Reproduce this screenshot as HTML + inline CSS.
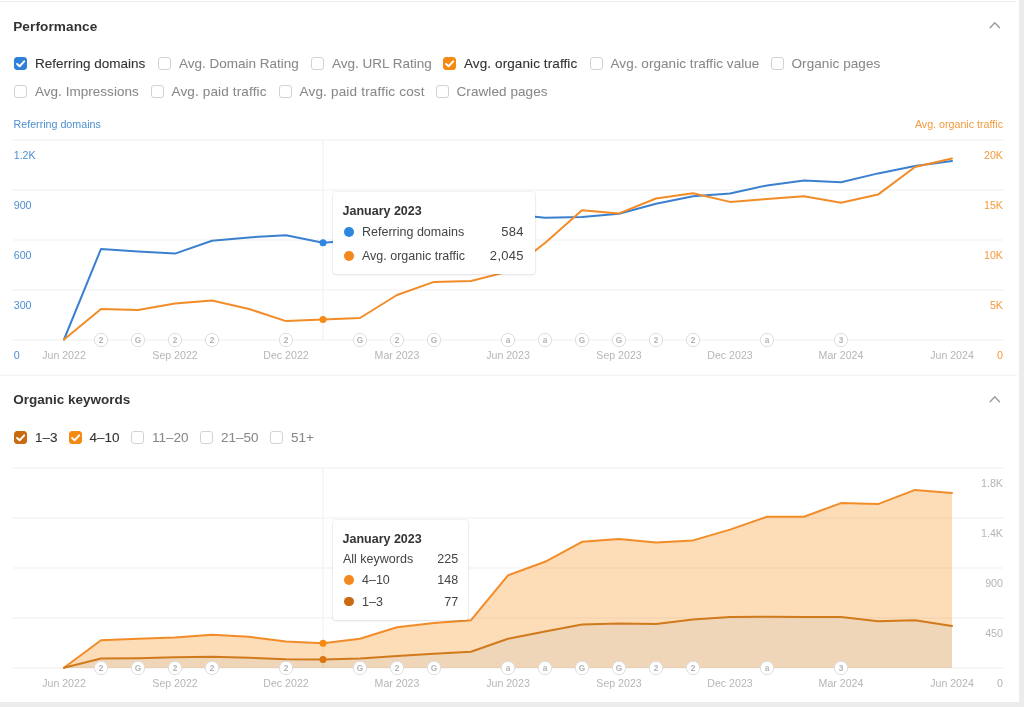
<!DOCTYPE html>
<html lang="en"><head><meta charset="utf-8"><title>Performance</title>
<style>
html,body{margin:0;padding:0}
body{width:1024px;height:707px;overflow:hidden;background:#ececec;font-family:"Liberation Sans",sans-serif;position:relative;color:#333}
.panel{position:absolute;left:0;top:2px;width:1019px;height:699.6px;background:#fff}
.topline{position:absolute;left:0;top:0;width:1019px;height:2px;background:#fff}
.topline i{position:absolute;left:0;top:1px;width:1016px;height:1px;background:#efefef}
.chart{position:absolute;left:0;top:0}
.h{position:absolute;left:13.2px;font-weight:bold;font-size:13.6px;letter-spacing:0.1px;line-height:16px;color:#333;white-space:nowrap}
.cb{position:absolute;box-sizing:border-box;width:13.4px;height:13.4px;border:1px solid #d2d2d4;border-radius:3px;background:#fff}
.cb.on svg{position:absolute;left:-1px;top:-1px}
.lab{position:absolute;font-size:13.5px;line-height:17px;color:#898989;-webkit-text-stroke:0.06px #898989;margin-top:0.3px;white-space:nowrap}
.lab.on{color:#333;-webkit-text-stroke:0.1px #333}
text{font-family:"Liberation Sans",sans-serif}
.mk{font-size:8.3px;font-weight:bold;fill:#b4b4b4;text-anchor:middle}
.xl{font-size:10.6px;fill:#b6b6b6;text-anchor:middle}
.yl{font-size:10.7px}
.b{fill:#4d8fd1} .o{fill:#f39a3c} .g{fill:#b5b5b5} .r{text-anchor:end}
.tip{position:absolute;background:#fff;border-radius:3px;box-shadow:0 0 0 1px rgba(0,0,0,.035),0 1px 3px rgba(0,0,0,.09);font-size:12.5px;color:#444}
.tip b{position:absolute;left:9.5px;top:11px;font-size:12.5px;color:#333;white-space:nowrap;line-height:16px}
.tip .r{position:absolute;left:10px;right:11px;height:16px;line-height:16px;white-space:nowrap}
.tip .r i{position:absolute;left:1.3px;top:3.1px;width:9.8px;height:9.8px;border-radius:50%}
.tip .r span{position:absolute;left:19px}
.tip .r span.n{left:0}
.tip .r em{position:absolute;right:0.1px;font-style:normal;font-size:13px;letter-spacing:0.3px}
.t2 .r{right:9.7px}
.tip.t2 .r em{font-size:12.5px;letter-spacing:0.1px;right:0}
</style></head><body>
<div class="topline"><i></i></div>
<div class="panel"></div>
<svg class="chart" width="1024" height="707" viewBox="0 0 1024 707">
<rect x="0" y="374.7" width="1017" height="1" fill="#f0f0f1"/>
<rect x="13" y="139.5" width="990" height="1" fill="#f0f0f2"/>
<rect x="13" y="189.5" width="990" height="1" fill="#f0f0f2"/>
<rect x="13" y="239.5" width="990" height="1" fill="#f0f0f2"/>
<rect x="13" y="289.5" width="990" height="1" fill="#f0f0f2"/>
<rect x="13" y="339.5" width="990" height="1" fill="#f0f0f2"/>
<rect x="322.5" y="140" width="1" height="200" fill="#f0f0f2"/>
<rect x="13" y="467.5" width="990" height="1" fill="#f0f0f2"/>
<rect x="13" y="517.5" width="990" height="1" fill="#f0f0f2"/>
<rect x="13" y="567.5" width="990" height="1" fill="#f0f0f2"/>
<rect x="13" y="617.5" width="990" height="1" fill="#f0f0f2"/>
<rect x="13" y="667.5" width="990" height="1" fill="#f0f0f2"/>
<rect x="322.5" y="468" width="1" height="200" fill="#f0f0f2"/>
<path d="M64.0,339.5 L101.0,248.9 L138.0,251.4 L175.0,253.6 L212.0,240.8 L249.0,237.4 L286.0,235.2 L323.0,242.7 L360.0,240.0 L397.0,235.0 L434.0,228.0 L471.0,222.0 L508.0,214.0 L545.0,217.8 L582.0,217.1 L619.0,213.8 L656.0,203.8 L693.0,196.3 L730.0,193.5 L767.0,185.4 L804.0,180.4 L841.0,182.3 L878.0,173.4 L915.0,165.9 L952.0,161.1" fill="none" stroke="#3b80cf" stroke-width="2" stroke-linejoin="round" stroke-linecap="round"/>
<path d="M64.0,339.5 L101.0,309.0 L138.0,309.9 L175.0,303.4 L212.0,300.6 L249.0,309.0 L286.0,321.1 L323.0,319.5 L360.0,318.0 L397.0,295.0 L434.0,281.9 L471.0,281.0 L508.0,271.6 L545.0,243.0 L582.0,210.3 L619.0,213.4 L656.0,198.5 L693.0,193.2 L730.0,201.9 L767.0,199.1 L804.0,196.3 L841.0,202.7 L878.0,194.6 L915.0,167.0 L952.0,158.5" fill="none" stroke="#f28c28" stroke-width="2" stroke-linejoin="round" stroke-linecap="round"/>
<circle cx="323.0" cy="242.7" r="3.5" fill="#2f86de"/>
<circle cx="323.0" cy="319.5" r="3.5" fill="#f58a14"/>
<path d="M64.0,667.7 L101.0,640.2 L138.0,638.8 L175.0,637.5 L212.0,634.8 L249.0,636.8 L286.0,641.5 L323.0,643.2 L360.0,638.8 L397.0,627.3 L434.0,622.9 L471.0,620.2 L508.0,575.4 L545.0,561.8 L582.0,541.8 L619.0,539.1 L656.0,542.5 L693.0,540.4 L730.0,529.6 L767.0,516.7 L804.0,516.7 L841.0,503.1 L878.0,504.1 L915.0,489.9 L952.0,492.9 L952.0,625.9 L915.0,620.2 L878.0,621.2 L841.0,617.1 L804.0,617.1 L767.0,616.8 L730.0,617.1 L693.0,619.5 L656.0,623.9 L619.0,623.6 L582.0,624.6 L545.0,631.4 L508.0,638.8 L471.0,651.7 L434.0,653.8 L397.0,656.1 L360.0,658.5 L323.0,659.5 L286.0,659.2 L249.0,657.8 L212.0,656.8 L175.0,657.2 L138.0,658.2 L101.0,658.5 L64.0,667.7 Z" fill="rgb(249,149,40)" fill-opacity="0.33"/>
<path d="M64.0,667.7 L101.0,658.5 L138.0,658.2 L175.0,657.2 L212.0,656.8 L249.0,657.8 L286.0,659.2 L323.0,659.5 L360.0,658.5 L397.0,656.1 L434.0,653.8 L471.0,651.7 L508.0,638.8 L545.0,631.4 L582.0,624.6 L619.0,623.6 L656.0,623.9 L693.0,619.5 L730.0,617.1 L767.0,616.8 L804.0,617.1 L841.0,617.1 L878.0,621.2 L915.0,620.2 L952.0,625.9 L952.0,668 L64.0,668 Z" fill="rgb(210,131,40)" fill-opacity="0.33"/>
<path d="M64.0,667.7 L101.0,640.2 L138.0,638.8 L175.0,637.5 L212.0,634.8 L249.0,636.8 L286.0,641.5 L323.0,643.2 L360.0,638.8 L397.0,627.3 L434.0,622.9 L471.0,620.2 L508.0,575.4 L545.0,561.8 L582.0,541.8 L619.0,539.1 L656.0,542.5 L693.0,540.4 L730.0,529.6 L767.0,516.7 L804.0,516.7 L841.0,503.1 L878.0,504.1 L915.0,489.9 L952.0,492.9" fill="none" stroke="#f28c28" stroke-width="2" stroke-linejoin="round" stroke-linecap="round"/>
<path d="M64.0,667.7 L101.0,658.5 L138.0,658.2 L175.0,657.2 L212.0,656.8 L249.0,657.8 L286.0,659.2 L323.0,659.5 L360.0,658.5 L397.0,656.1 L434.0,653.8 L471.0,651.7 L508.0,638.8 L545.0,631.4 L582.0,624.6 L619.0,623.6 L656.0,623.9 L693.0,619.5 L730.0,617.1 L767.0,616.8 L804.0,617.1 L841.0,617.1 L878.0,621.2 L915.0,620.2 L952.0,625.9" fill="none" stroke="#d07a1c" stroke-width="2" stroke-linejoin="round" stroke-linecap="round"/>
<circle cx="323.0" cy="643.2" r="3.5" fill="#f58a14"/>
<circle cx="323.0" cy="659.5" r="3.5" fill="#d9740f"/>
<circle cx="101.0" cy="340" r="6.7" fill="#fff" stroke="#dedee0" stroke-width="1"/>
<text x="101.0" y="343" class="mk">2</text>
<circle cx="138.0" cy="340" r="6.7" fill="#fff" stroke="#dedee0" stroke-width="1"/>
<text x="138.0" y="343" class="mk">G</text>
<circle cx="175.0" cy="340" r="6.7" fill="#fff" stroke="#dedee0" stroke-width="1"/>
<text x="175.0" y="343" class="mk">2</text>
<circle cx="212.0" cy="340" r="6.7" fill="#fff" stroke="#dedee0" stroke-width="1"/>
<text x="212.0" y="343" class="mk">2</text>
<circle cx="286.0" cy="340" r="6.7" fill="#fff" stroke="#dedee0" stroke-width="1"/>
<text x="286.0" y="343" class="mk">2</text>
<circle cx="360.0" cy="340" r="6.7" fill="#fff" stroke="#dedee0" stroke-width="1"/>
<text x="360.0" y="343" class="mk">G</text>
<circle cx="397.0" cy="340" r="6.7" fill="#fff" stroke="#dedee0" stroke-width="1"/>
<text x="397.0" y="343" class="mk">2</text>
<circle cx="434.0" cy="340" r="6.7" fill="#fff" stroke="#dedee0" stroke-width="1"/>
<text x="434.0" y="343" class="mk">G</text>
<circle cx="508.0" cy="340" r="6.7" fill="#fff" stroke="#dedee0" stroke-width="1"/>
<text x="508.0" y="343" class="mk">a</text>
<circle cx="545.0" cy="340" r="6.7" fill="#fff" stroke="#dedee0" stroke-width="1"/>
<text x="545.0" y="343" class="mk">a</text>
<circle cx="582.0" cy="340" r="6.7" fill="#fff" stroke="#dedee0" stroke-width="1"/>
<text x="582.0" y="343" class="mk">G</text>
<circle cx="619.0" cy="340" r="6.7" fill="#fff" stroke="#dedee0" stroke-width="1"/>
<text x="619.0" y="343" class="mk">G</text>
<circle cx="656.0" cy="340" r="6.7" fill="#fff" stroke="#dedee0" stroke-width="1"/>
<text x="656.0" y="343" class="mk">2</text>
<circle cx="693.0" cy="340" r="6.7" fill="#fff" stroke="#dedee0" stroke-width="1"/>
<text x="693.0" y="343" class="mk">2</text>
<circle cx="767.0" cy="340" r="6.7" fill="#fff" stroke="#dedee0" stroke-width="1"/>
<text x="767.0" y="343" class="mk">a</text>
<circle cx="841.0" cy="340" r="6.7" fill="#fff" stroke="#dedee0" stroke-width="1"/>
<text x="841.0" y="343" class="mk">3</text>
<text x="64.0" y="358.5" class="xl">Jun 2022</text>
<text x="175.0" y="358.5" class="xl">Sep 2022</text>
<text x="286.0" y="358.5" class="xl">Dec 2022</text>
<text x="397.0" y="358.5" class="xl">Mar 2023</text>
<text x="508.0" y="358.5" class="xl">Jun 2023</text>
<text x="619.0" y="358.5" class="xl">Sep 2023</text>
<text x="730.0" y="358.5" class="xl">Dec 2023</text>
<text x="841.0" y="358.5" class="xl">Mar 2024</text>
<text x="952.0" y="358.5" class="xl">Jun 2024</text>
<circle cx="101.0" cy="668" r="6.7" fill="#fff" stroke="#dedee0" stroke-width="1"/>
<text x="101.0" y="671" class="mk">2</text>
<circle cx="138.0" cy="668" r="6.7" fill="#fff" stroke="#dedee0" stroke-width="1"/>
<text x="138.0" y="671" class="mk">G</text>
<circle cx="175.0" cy="668" r="6.7" fill="#fff" stroke="#dedee0" stroke-width="1"/>
<text x="175.0" y="671" class="mk">2</text>
<circle cx="212.0" cy="668" r="6.7" fill="#fff" stroke="#dedee0" stroke-width="1"/>
<text x="212.0" y="671" class="mk">2</text>
<circle cx="286.0" cy="668" r="6.7" fill="#fff" stroke="#dedee0" stroke-width="1"/>
<text x="286.0" y="671" class="mk">2</text>
<circle cx="360.0" cy="668" r="6.7" fill="#fff" stroke="#dedee0" stroke-width="1"/>
<text x="360.0" y="671" class="mk">G</text>
<circle cx="397.0" cy="668" r="6.7" fill="#fff" stroke="#dedee0" stroke-width="1"/>
<text x="397.0" y="671" class="mk">2</text>
<circle cx="434.0" cy="668" r="6.7" fill="#fff" stroke="#dedee0" stroke-width="1"/>
<text x="434.0" y="671" class="mk">G</text>
<circle cx="508.0" cy="668" r="6.7" fill="#fff" stroke="#dedee0" stroke-width="1"/>
<text x="508.0" y="671" class="mk">a</text>
<circle cx="545.0" cy="668" r="6.7" fill="#fff" stroke="#dedee0" stroke-width="1"/>
<text x="545.0" y="671" class="mk">a</text>
<circle cx="582.0" cy="668" r="6.7" fill="#fff" stroke="#dedee0" stroke-width="1"/>
<text x="582.0" y="671" class="mk">G</text>
<circle cx="619.0" cy="668" r="6.7" fill="#fff" stroke="#dedee0" stroke-width="1"/>
<text x="619.0" y="671" class="mk">G</text>
<circle cx="656.0" cy="668" r="6.7" fill="#fff" stroke="#dedee0" stroke-width="1"/>
<text x="656.0" y="671" class="mk">2</text>
<circle cx="693.0" cy="668" r="6.7" fill="#fff" stroke="#dedee0" stroke-width="1"/>
<text x="693.0" y="671" class="mk">2</text>
<circle cx="767.0" cy="668" r="6.7" fill="#fff" stroke="#dedee0" stroke-width="1"/>
<text x="767.0" y="671" class="mk">a</text>
<circle cx="841.0" cy="668" r="6.7" fill="#fff" stroke="#dedee0" stroke-width="1"/>
<text x="841.0" y="671" class="mk">3</text>
<text x="64.0" y="686.5" class="xl">Jun 2022</text>
<text x="175.0" y="686.5" class="xl">Sep 2022</text>
<text x="286.0" y="686.5" class="xl">Dec 2022</text>
<text x="397.0" y="686.5" class="xl">Mar 2023</text>
<text x="508.0" y="686.5" class="xl">Jun 2023</text>
<text x="619.0" y="686.5" class="xl">Sep 2023</text>
<text x="730.0" y="686.5" class="xl">Dec 2023</text>
<text x="841.0" y="686.5" class="xl">Mar 2024</text>
<text x="952.0" y="686.5" class="xl">Jun 2024</text>
<text x="13.7" y="159" class="yl b">1.2K</text>
<text x="13.7" y="209" class="yl b">900</text>
<text x="13.7" y="259" class="yl b">600</text>
<text x="13.7" y="309" class="yl b">300</text>
<text x="13.7" y="359" class="yl b">0</text>
<text x="1003" y="159" class="yl o r">20K</text>
<text x="1003" y="209" class="yl o r">15K</text>
<text x="1003" y="259" class="yl o r">10K</text>
<text x="1003" y="309" class="yl o r">5K</text>
<text x="1003" y="359" class="yl o r">0</text>
<text x="1003" y="487" class="yl g r">1.8K</text>
<text x="1003" y="537" class="yl g r">1.4K</text>
<text x="1003" y="587" class="yl g r">900</text>
<text x="1003" y="637" class="yl g r">450</text>
<text x="1003" y="687" class="yl g r">0</text>
<text x="13.5" y="128" class="yl b">Referring domains</text>
<text x="1003" y="128" class="yl o r">Avg. organic traffic</text>
<path d="M990.1,27.8 L994.8,22.7 L999.5,27.8" fill="none" stroke="#9a9a9a" stroke-width="1.3" stroke-linecap="round" stroke-linejoin="round"/>
<path d="M990.1,401.8 L994.8,396.7 L999.5,401.8" fill="none" stroke="#9a9a9a" stroke-width="1.3" stroke-linecap="round" stroke-linejoin="round"/>
</svg>
<div class="h" style="top:18.8px">Performance</div>
<div class="h" style="top:391.8px;letter-spacing:0;font-size:13.5px">Organic keywords</div>
<span class="cb on" style="left:14px;top:57px;background:#2f80d8;border-color:#2f80d8"><svg width="13.4" height="13.4" viewBox="0 0 13.4 13.4"><path d="M3.1,7 L5.6,9.2 L10.2,4.4" fill="none" stroke="#fff" stroke-width="2" stroke-linecap="round" stroke-linejoin="round"/></svg></span>
<span class="lab on" style="left:35px;top:55px">Referring domains</span>
<span class="cb" style="left:158px;top:57px"></span>
<span class="lab" style="left:179px;top:55px">Avg. Domain Rating</span>
<span class="cb" style="left:311px;top:57px"></span>
<span class="lab" style="left:332px;top:55px">Avg. URL Rating</span>
<span class="cb on" style="left:443px;top:57px;background:#f6890f;border-color:#f6890f"><svg width="13.4" height="13.4" viewBox="0 0 13.4 13.4"><path d="M3.1,7 L5.6,9.2 L10.2,4.4" fill="none" stroke="#fff" stroke-width="2" stroke-linecap="round" stroke-linejoin="round"/></svg></span>
<span class="lab on" style="left:464px;top:55px;letter-spacing:0.1px">Avg. organic traffic</span>
<span class="cb" style="left:589.5px;top:57px"></span>
<span class="lab" style="left:610.5px;top:55px;letter-spacing:0.06px">Avg. organic traffic value</span>
<span class="cb" style="left:770.5px;top:57px"></span>
<span class="lab" style="left:791.5px;top:55px;letter-spacing:0.08px">Organic pages</span>
<span class="cb" style="left:14px;top:85px"></span>
<span class="lab" style="left:35px;top:83px;letter-spacing:0.03px">Avg. Impressions</span>
<span class="cb" style="left:150.5px;top:85px"></span>
<span class="lab" style="left:171.5px;top:83px;letter-spacing:0.15px">Avg. paid traffic</span>
<span class="cb" style="left:278.5px;top:85px"></span>
<span class="lab" style="left:299.5px;top:83px;letter-spacing:0.19px">Avg. paid traffic cost</span>
<span class="cb" style="left:435.5px;top:85px"></span>
<span class="lab" style="left:456.5px;top:83px;letter-spacing:0.08px">Crawled pages</span>
<span class="cb on" style="left:14px;top:431px;background:#c96a10;border-color:#c96a10"><svg width="13.4" height="13.4" viewBox="0 0 13.4 13.4"><path d="M3.1,7 L5.6,9.2 L10.2,4.4" fill="none" stroke="#fff" stroke-width="2" stroke-linecap="round" stroke-linejoin="round"/></svg></span>
<span class="lab on" style="left:35px;top:429px">1–3</span>
<span class="cb on" style="left:68.5px;top:431px;background:#f6890f;border-color:#f6890f"><svg width="13.4" height="13.4" viewBox="0 0 13.4 13.4"><path d="M3.1,7 L5.6,9.2 L10.2,4.4" fill="none" stroke="#fff" stroke-width="2" stroke-linecap="round" stroke-linejoin="round"/></svg></span>
<span class="lab on" style="left:89.5px;top:429px">4–10</span>
<span class="cb" style="left:131px;top:431px"></span>
<span class="lab" style="left:152px;top:429px">11–20</span>
<span class="cb" style="left:200px;top:431px"></span>
<span class="lab" style="left:221px;top:429px">21–50</span>
<span class="cb" style="left:270px;top:431px"></span>
<span class="lab" style="left:291px;top:429px">51+</span>
<div class="tip" style="left:333px;top:192px;width:202px;height:82px">
<b>January 2023</b>
<div class="r" style="top:31.9px"><i style="background:#2f86de"></i><span>Referring domains</span><em>584</em></div>
<div class="r" style="top:55.7px"><i style="background:#f5871f"></i><span>Avg. organic traffic</span><em>2,045</em></div>
</div>
<div class="tip t2" style="left:333px;top:520px;width:135px;height:100px">
<b>January 2023</b>
<div class="r" style="top:31px"><span class="n">All keywords</span><em>225</em></div>
<div class="r" style="top:52px"><i style="background:#f5871f"></i><span>4–10</span><em>148</em></div>
<div class="r" style="top:73.6px"><i style="background:#c96a10"></i><span>1–3</span><em>77</em></div>
</div>
</body></html>
